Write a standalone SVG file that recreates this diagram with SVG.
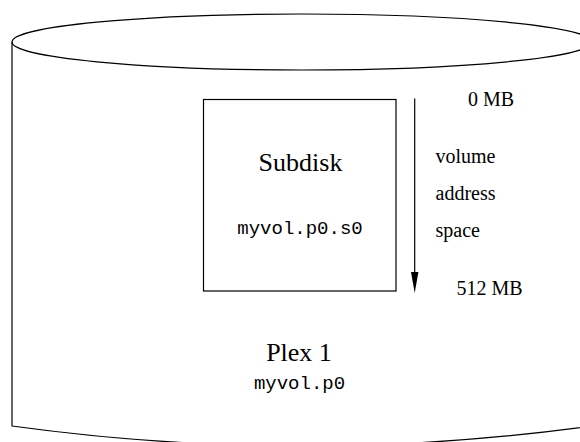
<svg xmlns="http://www.w3.org/2000/svg" width="580" height="442" viewBox="0 0 580 442">
<style>
.ln{fill:none;stroke:#000;stroke-width:1.2}
.serif{font-family:"Liberation Serif","Times New Roman",serif;fill:#000}
.mono{font-family:"Liberation Mono","Courier New",monospace;fill:#000}
.big{font-size:26px}
.small{font-size:20px}
.code{font-size:19px}
</style>
<defs>
<marker id="ah" markerWidth="8" markerHeight="21" refX="4" refY="21" orient="auto-start-reverse" markerUnits="userSpaceOnUse" viewBox="0 0 8 21">
<path d="M0.5,0 L7.5,0 L4,21 Z" fill="#000"/>
</marker>
</defs>
<g id="plex">
<ellipse class="ln" cx="302" cy="42" rx="290" ry="28"/>
<path class="ln" d="M12,42 L12,426 Q302,466 592,426 L592,42"/>
<text class="serif big" x="299" y="361" text-anchor="middle">Plex 1</text>
<text class="mono code" x="299.5" y="389" text-anchor="middle">myvol.p0</text>
</g>
<g id="subdisk">
<rect class="ln" x="203.5" y="99.5" width="192.5" height="191.5"/>
<text class="serif big" x="300.5" y="171" text-anchor="middle">Subdisk</text>
<text class="mono code" x="300" y="234" text-anchor="middle">myvol.p0.s0</text>
</g>
<g id="connectors">
<line class="ln" x1="414.7" y1="98.5" x2="414.7" y2="274"/>
<path d="M411,272 L418.4,272 L414.7,293 Z" fill="#000"/>
</g>
<g id="labels">
<text class="serif small" x="468" y="106">0 MB</text>
<text class="serif small" x="435.5" y="163">volume</text>
<text class="serif small" x="435.5" y="199.5">address</text>
<text class="serif small" x="435.5" y="236.5">space</text>
<text class="serif small" x="456.5" y="295">512 MB</text>
</g>
</svg>
